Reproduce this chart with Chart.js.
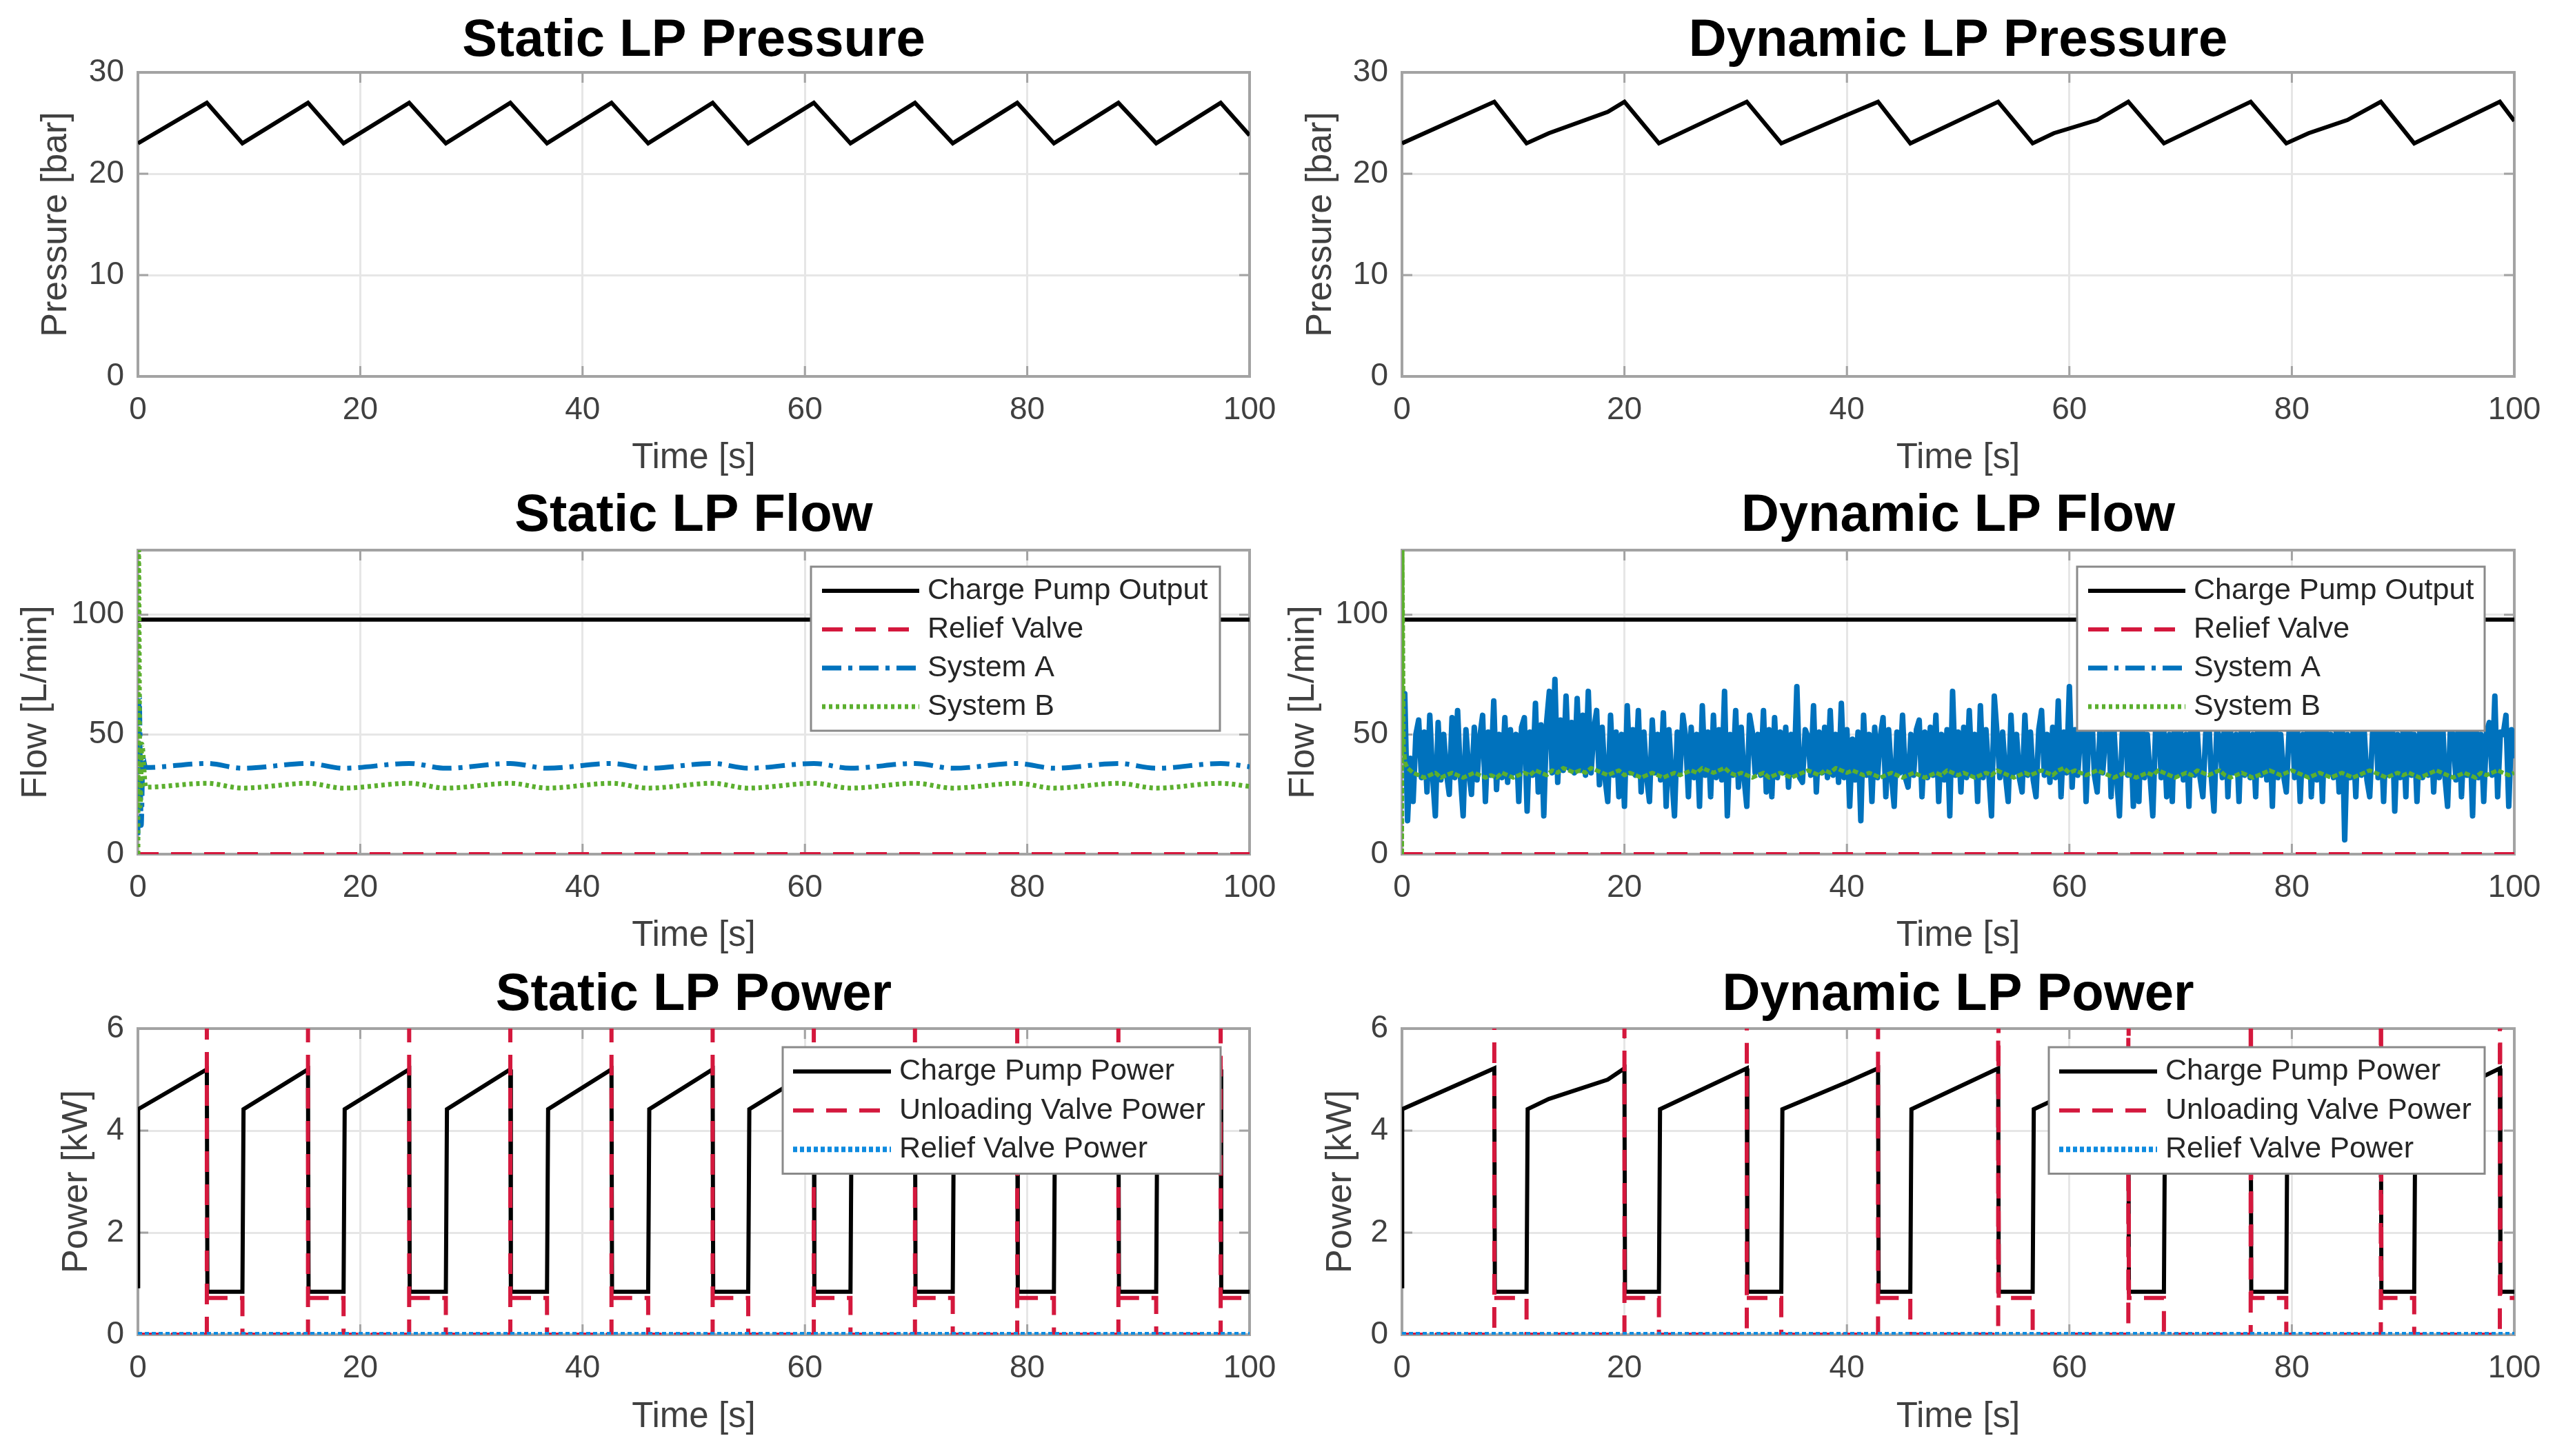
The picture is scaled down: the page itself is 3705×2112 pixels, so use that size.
<!DOCTYPE html>
<html><head><meta charset="utf-8">
<script src="https://cdn.jsdelivr.net/npm/chart.js@4.4.1/dist/chart.umd.min.js"></script>
<style>
html,body{margin:0;padding:0;background:#fff;width:3705px;height:2112px;overflow:hidden;}
canvas{position:absolute;}
</style></head><body>
<canvas id="c1" width="1850" height="700" style="left:0;top:0;width:1850px;height:700px"></canvas>
<canvas id="c2" width="1855" height="700" style="left:1850px;top:0;width:1855px;height:700px"></canvas>
<canvas id="c3" width="1850" height="700" style="left:0;top:700px;width:1850px;height:700px"></canvas>
<canvas id="c4" width="1855" height="700" style="left:1850px;top:700px;width:1855px;height:700px"></canvas>
<canvas id="c5" width="1850" height="712" style="left:0;top:1400px;width:1850px;height:712px"></canvas>
<canvas id="c6" width="1855" height="712" style="left:1850px;top:1400px;width:1855px;height:712px"></canvas>
<script>
// ---------------- DATA ----------------
const titles = ['Static LP Pressure','Dynamic LP Pressure','Static LP Flow','Dynamic LP Flow','Static LP Power','Dynamic LP Power'];
const xTicks = [0, 20, 40, 60, 80, 100];
const pressureTicks = [0, 10, 20, 30];
const flowTicks = [0, 50, 100];
const powerTicks = [0, 2, 4, 6];
const flowLabels = ['Charge Pump Output', 'Relief Valve', 'System A', 'System B'];
const powerLabels = ['Charge Pump Power', 'Unloading Valve Power', 'Relief Valve Power'];

// Static LP pressure (bar)
const staticPressureT = [0, 6.2, 9.4, 15.3, 18.5, 24.4, 27.7, 33.5, 36.8, 42.6, 45.9, 51.7, 54.9, 60.8, 64.1, 69.9, 73.3, 79.1, 82.4, 88.2, 91.6, 97.4, 100];
const staticPressureV = [23, 27, 23, 27, 23, 27, 23, 27, 23, 27, 23, 27, 23, 27, 23, 27, 23, 27, 23, 27, 23, 27, 23.8];

// Dynamic LP pressure (bar)
const dynPressureT = [0, 8.3, 11.2, 13.2, 18.5, 20.0, 23.1, 31.0, 34.1, 36.2, 40.0, 42.8, 45.7, 53.6, 56.7, 58.6, 62.5, 65.3, 68.5, 76.3, 79.5, 81.5, 85.0, 88.0, 91.0, 98.7, 100];
const dynPressureV = [23, 27.1, 23, 24, 26.1, 27.1, 23, 27.1, 23, 24, 25.8, 27.1, 23, 27.1, 23, 24, 25.3, 27.1, 23, 27.1, 23, 24, 25.3, 27.1, 23, 27.1, 25.2];

// Static LP flow (L/min)
const staticPumpFlowT = [0, 100];
const staticPumpFlowV = [98, 98];
const staticReliefFlowT = [0, 100];
const staticReliefFlowV = [0, 0];
const staticSysAT = [0, 0.12, 0.3, 0.45, 0.7, 6.2, 9.4, 15.3, 18.5, 24.4, 27.7, 33.5, 36.8, 42.6, 45.9, 51.7, 54.9, 60.8, 64.1, 69.9, 73.3, 79.1, 82.4, 88.2, 91.6, 97.4, 100];
const staticSysAV = [8, 66, 12, 40, 36.2, 37.9, 35.9, 37.9, 35.9, 37.9, 35.9, 37.9, 35.9, 37.9, 35.9, 37.9, 35.9, 37.9, 35.9, 37.9, 35.9, 37.9, 35.9, 37.9, 35.9, 37.9, 36.5];
const staticSysBT = [0, 0.05, 0.2, 0.35, 0.7, 6.2, 9.4, 15.3, 18.5, 24.4, 27.7, 33.5, 36.8, 42.6, 45.9, 51.7, 54.9, 60.8, 64.1, 69.9, 73.3, 79.1, 82.4, 88.2, 91.6, 97.4, 100];
const staticSysBV = [0, 130, 20, 46, 28.0, 29.6, 27.6, 29.6, 27.6, 29.6, 27.6, 29.6, 27.6, 29.6, 27.6, 29.6, 27.6, 29.6, 27.6, 29.6, 27.6, 29.6, 27.6, 29.6, 27.6, 29.6, 28.3];

// Dynamic LP flow (L/min)
const dynPumpFlowT = [0, 100];
const dynPumpFlowV = [98, 98];
const dynReliefFlowT = [0, 100];
const dynReliefFlowV = [0, 0];
const dynSysADt = 0.25;   // sample interval of the System A record, s
const dynSysAV = [
45,67,14,40, 22,50,56,32, 51,26,58,33, 16,55,31,50, 34,25,57,32,
60,33,16,52, 35,25,53,31, 49,58,22,51, 33,64,27,50, 32,57,30,52,
34,50,22,53, 57,18,51,33, 63,26,54,16, 55,68,34,73, 30,56,35,66,
36,55,34,65, 35,58,33,68, 34,52,60,29, 53,32,22,58, 33,51,24,50,
20,62,34,52, 33,60,26,51, 32,22,56,34, 50,31,59,20, 52,33,16,51,
34,58,49,24, 53,32,50,20, 62,33,51,24, 58,32,52,31, 68,16,50,33,
60,28,53,32, 20,58,51,34, 50,33,60,26, 52,24,57,32, 51,34,53,28,
50,33,70,32, 30,52,49,33, 62,26,51,34, 53,32,60,33, 50,30,63,32,
52,20,48,31, 51,14,58,33, 50,22,53,32, 49,57,24,52, 33,20,51,34,
58,32,28,50, 33,52,56,24, 51,32,53,33, 58,22,50,31, 52,16,68,33,
51,26,53,32, 60,33,50,22, 62,32,52,34, 16,66,50,32, 51,33,22,58,
34,50,32,26, 58,33,51,31, 24,52,60,33, 50,30,53,32, 64,24,51,34,
70,28,52,33, 50,66,22,51, 60,33,26,52, 34,50,62,24, 53,32,16,50,
60,33,52,20, 51,22,64,32, 50,33,16,52, 60,32,51,24, 50,22,62,33,
52,31,50,20, 66,33,51,32, 24,50,60,33, 18,52,49,32, 62,24,51,34,
50,22,58,33, 52,32,50,24, 64,33,51,31, 53,20,60,32, 50,33,26,51,
62,32,52,22, 50,33,66,24, 51,31,53,22, 60,33,50,32, 52,26,62,6,
50,32,51,24, 58,33,52,31, 24,50,64,32, 51,22,53,33, 60,18,50,32,
52,24,66,33, 50,22,51,32, 60,33,52,26, 51,32,62,33, 20,52,50,31,
58,24,51,33, 52,16,60,32, 50,22,51,55, 33,66,24,51, 50,58,20,52,
40];
const dynSysBStartT = [0, 0.04, 0.15, 0.3];
const dynSysBStartV = [0, 127, 45, 38];
const dynSysBT0 = 0.5;    // first sample time of the System B record, s
const dynSysBDt = 0.5;    // sample interval of the System B record, s
const dynSysBV = [
36,34,33,32,33,34,32,33,34,33, 32,33,34,33,32,33,32,34,33,32,
33,34,33,35,34,33,35,34,36,35, 34,35,34,36,35,34,33,34,35,33,
34,33,32,33,34,33,32,33,34,33, 34,35,34,36,35,34,35,36,34,33,
34,33,32,33,34,32,33,34,33,32, 33,34,35,34,33,35,34,36,35,34,
35,34,33,34,33,32,33,34,33,32, 33,34,33,32,33,34,33,35,34,33,
34,33,32,33,34,33,35,34,33,32, 33,34,33,34,35,34,33,35,36,34,
35,34,33,34,35,34,33,32,33,34, 33,32,33,34,33,35,34,33,32,33,
34,33,35,34,33,34,35,33,32,33, 34,33,32,33,34,35,34,33,34,35,
34,33,32,33,34,33,32,33,34,33, 32,33,34,35,34,33,32,33,34,33,
34,33,32,33,34,35,34,33,32,33, 34,33,32,34,33,34,35,34,33,34];

// Static LP power (kW)
const staticPumpPowerT = [0, 0.02, 6.2, 6.25, 9.4, 9.5, 15.3, 15.35, 18.5, 18.6, 24.4, 24.45, 27.7, 27.8, 33.5, 33.55, 36.8, 36.9, 42.6, 42.65, 45.9, 46.0, 51.7, 51.75, 54.9, 55.0, 60.8, 60.85, 64.1, 64.2, 69.9, 69.95, 73.3, 73.4, 79.1, 79.15, 82.4, 82.5, 88.2, 88.25, 91.6, 91.7, 97.4, 97.45, 100];
const staticPumpPowerV = [0.95, 4.42, 5.2, 0.84, 0.84, 4.42, 5.2, 0.84, 0.84, 4.42, 5.2, 0.84, 0.84, 4.42, 5.2, 0.84, 0.84, 4.42, 5.2, 0.84, 0.84, 4.42, 5.2, 0.84, 0.84, 4.42, 5.2, 0.84, 0.84, 4.42, 5.2, 0.84, 0.84, 4.42, 5.2, 0.84, 0.84, 4.42, 5.2, 0.84, 0.84, 4.42, 5.2, 0.84, 0.84];
// null = break in the recorded trace
const staticUnloadPowerT = [0,
  6.2, 6.2, 6.2, 6.2, 9.4, 9.4,   15.3, 15.3, 15.3, 15.3, 18.5, 18.5,
  24.4, 24.4, 24.4, 24.4, 27.7, 27.7,   33.5, 33.5, 33.5, 33.5, 36.8, 36.8,
  42.6, 42.6, 42.6, 42.6, 45.9, 45.9,   51.7, 51.7, 51.7, 51.7, 54.9, 54.9,
  60.8, 60.8, 60.8, 60.8, 64.1, 64.1,   69.9, 69.9, 69.9, 69.9, 73.3, 73.3,
  79.1, 79.1, 79.1, 79.1, 82.4, 82.4,   88.2, 88.2, 88.2, 88.2, 91.6, 91.6,
  97.4, 97.4, 97.4, 97.4, 100];
const staticUnloadPowerV = [0,
  0, 12, null, 0.72, 0.72, 0,   0, 12, null, 0.72, 0.72, 0,
  0, 12, null, 0.72, 0.72, 0,   0, 12, null, 0.72, 0.72, 0,
  0, 12, null, 0.72, 0.72, 0,   0, 12, null, 0.72, 0.72, 0,
  0, 12, null, 0.72, 0.72, 0,   0, 12, null, 0.72, 0.72, 0,
  0, 12, null, 0.72, 0.72, 0,   0, 12, null, 0.72, 0.72, 0,
  0, 12, null, 0.72, 0.72];
const staticReliefPowerT = [0, 100];
const staticReliefPowerV = [0, 0];

// Dynamic LP power (kW)
const dynPumpPowerT = [0, 0.02, 8.3, 8.35, 11.2, 11.3, 13.2, 18.5, 20.0, 20.05, 23.1, 23.2, 31.0, 31.05, 34.1, 34.2, 36.2, 40.0, 42.8, 42.85, 45.7, 45.8, 53.6, 53.65, 56.7, 56.8, 58.6, 62.5, 65.3, 65.35, 68.5, 68.6, 76.3, 76.35, 79.5, 79.6, 81.5, 85.0, 88.0, 88.05, 91.0, 91.1, 98.7, 98.75, 100];
const dynPumpPowerV = [0.95, 4.42, 5.22, 0.84, 0.84, 4.42, 4.62, 5.0, 5.22, 0.84, 0.84, 4.42, 5.22, 0.84, 0.84, 4.42, 4.6, 4.95, 5.22, 0.84, 0.84, 4.42, 5.22, 0.84, 0.84, 4.42, 4.6, 4.92, 5.22, 0.84, 0.84, 4.42, 5.22, 0.84, 0.84, 4.42, 4.6, 4.92, 5.22, 0.84, 0.84, 4.42, 5.22, 0.84, 0.84];
const dynUnloadPowerT = [0,
  8.3, 8.3, 8.3, 8.3, 11.2, 11.2,   20.0, 20.0, 20.0, 20.0, 23.1, 23.1,
  31.0, 31.0, 31.0, 31.0, 34.1, 34.1,   42.8, 42.8, 42.8, 42.8, 45.7, 45.7,
  53.6, 53.6, 53.65, 56.7, 56.7,   65.3, 65.3, 65.35, 68.5, 68.5,
  76.3, 76.3, 76.35, 79.5, 79.5,   88.0, 88.0, 88.05, 91.0, 91.0,
  98.7, 98.7, 98.75, 100];
const dynUnloadPowerV = [0,
  0, 12, null, 0.72, 0.72, 0,   0, 12, null, 0.72, 0.72, 0,
  0, 12, null, 0.72, 0.72, 0,   0, 12, null, 0.72, 0.72, 0,
  0, 12, 0.72, 0.72, 0,   0, 12, 0.72, 0.72, 0,
  0, 12, 0.72, 0.72, 0,   0, 12, 0.72, 0.72, 0,
  0, 12, 0.72, 0.72];
const dynReliefPowerT = [0, 100];
const dynReliefPowerV = [0, 0];

// ---------------- HELPERS ----------------
const FONT = "'Liberation Sans', Arial, Helvetica, sans-serif";
const BLACK = '#000000', RED = '#D4183D', BLUE = '#0072BD', GREEN = '#5BAF2E', LBLUE = '#0E8BE0';
function pts(t, v) { return t.map((x, i) => ({x: x, y: v[i]})); }
function stepPts(t0, dt, v) { return v.map((y, i) => ({x: Math.round((t0 + i * dt) * 1000) / 1000, y: y})); }

const framePlugin = {
  id: 'frame',
  beforeDatasetsDraw(chart) {
    const {ctx, chartArea: a} = chart;
    const xs = chart.scales.x, ys = chart.scales.y;
    ctx.save();
    ctx.strokeStyle = '#a3a3a3';
    ctx.lineWidth = 3;
    const L = 15;
    ctx.beginPath();
    xs.ticks.forEach(t => { const p = xs.getPixelForValue(t.value); ctx.moveTo(p, a.bottom); ctx.lineTo(p, a.bottom - L); ctx.moveTo(p, a.top); ctx.lineTo(p, a.top + L); });
    ys.ticks.forEach(t => { const p = ys.getPixelForValue(t.value); ctx.moveTo(a.left, p); ctx.lineTo(a.left + L, p); ctx.moveTo(a.right, p); ctx.lineTo(a.right - L, p); });
    ctx.stroke();
    ctx.lineWidth = 4;
    ctx.strokeRect(a.left, a.top, a.right - a.left, a.bottom - a.top);
    ctx.restore();
  }
};

const boxLegend = {
  id: 'boxLegend',
  afterDatasetsDraw(chart, args, o) {
    if (!o || !o.show) return;
    const {ctx, chartArea: a} = chart;
    const ds = chart.data.datasets;
    const x0 = a.right - o.right - o.width, y0 = a.top + o.top;
    const h = o.padY * 2 + o.row * ds.length;
    ctx.save();
    ctx.fillStyle = '#ffffff';
    ctx.fillRect(x0, y0, o.width, h);
    ctx.lineWidth = 3;
    ctx.strokeStyle = '#8a8a8a';
    ctx.strokeRect(x0, y0, o.width, h);
    ctx.font = '43px ' + FONT;
    ctx.textBaseline = 'middle';
    ctx.textAlign = 'left';
    ds.forEach((d, i) => {
      const cy = y0 + o.padY + o.row * (i + 0.5);
      ctx.beginPath();
      ctx.setLineDash(d.legendDash || d.borderDash || []);
      ctx.strokeStyle = d.borderColor;
      ctx.lineWidth = d.legendWidth || d.borderWidth;
      ctx.moveTo(x0 + o.sx, cy);
      ctx.lineTo(x0 + o.sx + o.sl, cy);
      ctx.stroke();
      ctx.setLineDash([]);
      ctx.fillStyle = '#262626';
      ctx.fillText(d.label, x0 + o.tx, cy);
    });
    ctx.restore();
  }
};

const ROWS = [
  {titlePad: {top: 22, bottom: 7}, xAxisH: 154, xTitlePad: 9.5, yTitlePad: [56, 40]},
  {titlePad: {top: 11, bottom: 11}, xAxisH: 161, xTitlePad: 16.5, yTitlePad: [27, 15]},
  {titlePad: {top: 6, bottom: 10}, xAxisH: 176, xTitlePad: 30.5, yTitlePad: [86, 69]}
];
const COLS = [{yAxisW: 200, rightPad: 38}, {yAxisW: 183, rightPad: 59}];

function makeChart(id, row, col, title, yTitle, yMax, yTicks, datasets, legend) {
  const R = ROWS[row], C = COLS[col];
  const tickFont = {family: FONT, size: 46, lineHeight: 1};
  const titleFont = {family: FONT, size: 51, lineHeight: 1};
  return new Chart(document.getElementById(id), {
    type: 'line',
    data: {datasets: datasets},
    plugins: [framePlugin, boxLegend],
    options: {
      responsive: false, animation: false, devicePixelRatio: 1,
      layout: {padding: {left: 0, right: C.rightPad, top: 0, bottom: 0}},
      elements: {point: {radius: 0}, line: {tension: 0}},
      plugins: {
        legend: {display: false}, tooltip: {enabled: false},
        title: {display: true, fullSize: false, text: title, color: '#000', font: {family: FONT, size: 76, weight: 'bold', lineHeight: 1}, padding: R.titlePad},
        boxLegend: legend || {show: false}
      },
      scales: {
        x: {
          type: 'linear', min: 0, max: 100,
          afterBuildTicks: s => { s.ticks = xTicks.map(v => ({value: v})); },
          afterFit: s => { s.height = R.xAxisH; s.paddingLeft = 0; s.paddingRight = 0; },
          ticks: {font: tickFont, color: '#404040', padding: 26, maxRotation: 0, autoSkip: false},
          grid: {color: '#e6e6e6', lineWidth: 3, drawTicks: false},
          border: {display: false},
          title: {display: true, text: 'Time [s]', color: '#404040', font: titleFont, padding: {top: 0, bottom: R.xTitlePad}}
        },
        y: {
          type: 'linear', min: 0, max: yMax,
          afterBuildTicks: s => { s.ticks = yTicks.map(v => ({value: v})); },
          afterFit: s => { s.width = C.yAxisW; s.paddingTop = 0; s.paddingBottom = 0; },
          ticks: {font: tickFont, color: '#404040', padding: 20},
          grid: {color: '#e6e6e6', lineWidth: 3, drawTicks: false},
          border: {display: false},
          title: {display: true, text: yTitle, color: '#404040', font: {family: FONT, size: 52, lineHeight: 1}, padding: {top: R.yTitlePad[col], bottom: 0}}
        }
      }
    }
  });
}

function line(label, data, color, width, dash, order, extra) {
  return Object.assign({label: label, data: data, borderColor: color, backgroundColor: color, borderWidth: width, borderDash: dash, order: order, fill: false, pointRadius: 0, spanGaps: false}, extra || {});
}

const flowLegendL = {show: true, right: 43, width: 593, top: 24, row: 56, padY: 7, sx: 16, sl: 141, tx: 169};
const flowLegendR = {show: true, right: 43, width: 591, top: 24, row: 56, padY: 7, sx: 16, sl: 141, tx: 169};
const powerLegendL = {show: true, right: 42, width: 635, top: 27, row: 56.5, padY: 7, sx: 15, sl: 142, tx: 169};
const powerLegendR = {show: true, right: 43, width: 632, top: 27, row: 56.5, padY: 7, sx: 15, sl: 142, tx: 169};

const DASH = [30, 18], DASHDOT = [28, 10, 6, 10], DOT = [5, 5], BIGDOT = [6, 4];

// Row 1: pressure
makeChart('c1', 0, 0, titles[0], 'Pressure [bar]', 30, pressureTicks,
  [line('Pressure', pts(staticPressureT, staticPressureV), BLACK, 6, [], 1)]);
makeChart('c2', 0, 1, titles[1], 'Pressure [bar]', 30, pressureTicks,
  [line('Pressure', pts(dynPressureT, dynPressureV), BLACK, 6, [], 1)]);

// Row 2: flow
makeChart('c3', 1, 0, titles[2], 'Flow [L/min]', 127, flowTicks, [
  line(flowLabels[0], pts(staticPumpFlowT, staticPumpFlowV), BLACK, 6, [], 4),
  line(flowLabels[1], pts(staticReliefFlowT, staticReliefFlowV), RED, 6, DASH, 3),
  line(flowLabels[2], pts(staticSysAT, staticSysAV), BLUE, 7, DASHDOT, 2, {cubicInterpolationMode: 'monotone'}),
  line(flowLabels[3], pts(staticSysBT, staticSysBV), GREEN, 7, DOT, 1, {cubicInterpolationMode: 'monotone'})
], flowLegendL);
makeChart('c4', 1, 1, titles[3], 'Flow [L/min]', 127, flowTicks, [
  line(flowLabels[0], pts(dynPumpFlowT, dynPumpFlowV), BLACK, 6, [], 4),
  line(flowLabels[1], pts(dynReliefFlowT, dynReliefFlowV), RED, 6, DASH, 3),
  line(flowLabels[2], stepPts(0, dynSysADt, dynSysAV), BLUE, 8, [], 2, {legendDash: DASHDOT, legendWidth: 7, borderJoinStyle: 'round'}),
  line(flowLabels[3], pts(dynSysBStartT, dynSysBStartV).concat(stepPts(dynSysBT0, dynSysBDt, dynSysBV)), GREEN, 6, [8, 3], 1, {legendDash: DOT, legendWidth: 7, borderJoinStyle: 'round'})
], flowLegendR);

// Row 3: power
makeChart('c5', 2, 0, titles[4], 'Power [kW]', 6, powerTicks, [
  line(powerLabels[0], pts(staticPumpPowerT, staticPumpPowerV), BLACK, 6, [], 3),
  line(powerLabels[1], pts(staticUnloadPowerT, staticUnloadPowerV), RED, 6, DASH, 2),
  line(powerLabels[2], pts(staticReliefPowerT, staticReliefPowerV), LBLUE, 8, BIGDOT, 1)
], powerLegendL);
makeChart('c6', 2, 1, titles[5], 'Power [kW]', 6, powerTicks, [
  line(powerLabels[0], pts(dynPumpPowerT, dynPumpPowerV), BLACK, 6, [], 3),
  line(powerLabels[1], pts(dynUnloadPowerT, dynUnloadPowerV), RED, 6, DASH, 2),
  line(powerLabels[2], pts(dynReliefPowerT, dynReliefPowerV), LBLUE, 8, BIGDOT, 1)
], powerLegendR);
</script>
</body></html>
